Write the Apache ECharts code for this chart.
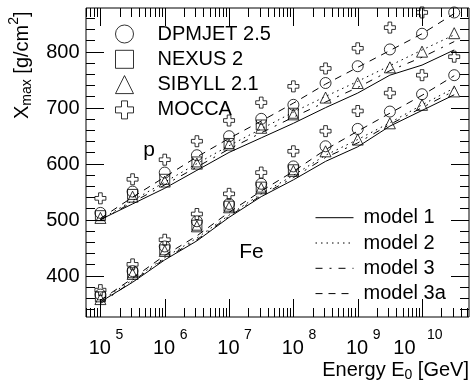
<!DOCTYPE html>
<html><head><meta charset="utf-8">
<script src="https://cdn.jsdelivr.net/npm/echarts@6/dist/echarts.min.js"></script>
<style>html,body{margin:0;padding:0;background:#fff}#c{width:471px;height:381px}</style>
</head><body><div id="c"></div>
<script>
// ---- data (x = log10 of energy in GeV) ----
const logE = [5, 5.5, 6, 6.5, 7, 7.5, 8, 8.5, 9, 9.5, 10, 10.5];

const dpmjetP  = [512, 550, 584, 615, 649, 680, 705, 744, 774, 804, 832, 870];
const dpmjetFe = [366, 408, 452, 497, 528, 564, 595, 631, 662, 693, 724, 758];
const nexusP   = [507, 545, 572, 603, 636, 669, 690];
const nexusFe  = [362, 405, 446, 490, 524, 558, 589];
const sibyllP  = [503, 541, 568, 600, 634, 664, 688, 718, 744, 772, 800, 833];
const sibyllFe = [358, 403, 444, 488, 522, 556, 587, 622, 643, 672, 705, 729];
const moccaP   = [538, 572, 607, 640, 677, 709, 738, 770, 806, 843, 870];
const moccaFe  = [374, 420, 464, 510, 546, 584, 622, 658, 694, 726, 758, 791];

const model1P  = [500, 528, 556, 588, 620, 646, 672, 700, 726, 758, 776, 803];
const model2P  = [500, 534, 567, 600, 632, 662, 692, 720, 747, 775, 803, 830];
const model3P  = [499, 531, 562, 594, 626, 655, 683, 710, 736, 766, 790, 818];
const model3aP = [502, 540, 576, 612, 645, 676, 708, 742, 772, 802, 832, 868];
const model1Fe  = [353, 388, 428, 462, 504, 541, 571, 604, 630, 667, 695, 723];
const model2Fe  = [355, 392, 432, 467, 508, 546, 579, 615, 643, 673, 705, 735];
const model3Fe  = [350, 390, 430, 464, 506, 543, 575, 611, 637, 670, 700, 730];
const model3aFe = [356, 395, 436, 471, 513, 551, 586, 625, 658, 690, 722, 757];

const xMajorTicks = [5, 6, 7, 8, 9, 10];
const xTickLabels = ['5', '6', '7', '8', '9', '10'];
const yMajorTicks = [400, 500, 600, 700, 800];
const yTickLabels = ['400', '500', '600', '700', '800'];

const markerNames = ['DPMJET 2.5', 'NEXUS 2', 'SIBYLL 2.1', 'MOCCA'];
const modelNames = ['model 1', 'model 2', 'model 3', 'model 3a'];

// ---- layout ----
const X_MIN = 4.776, X_MAX = 10.73, Y_MIN = 326, Y_MAX = 878;
const FONT = '"Liberation Sans", Arial, Helvetica, sans-serif';
const FS = 20;
const PLUS = 'path://M4,0H8V4H12V8H8V12H4V8H0V4H4Z';

function pairs(vals) { return vals.map((v, i) => [logE[i], v]); }

const xTicks = [];
for (let n = 4; n <= 10; n++) for (let k = 1; k <= 9; k++) {
  const v = n + Math.log10(k);
  if (v >= X_MIN && v <= X_MAX) xTicks.push([v, Y_MIN, k === 1 ? 1 : 0]);
}
const yTicks = [];
for (let v = 340; v <= 870; v += 20) yTicks.push([X_MIN, v, v % 100 === 0 ? 1 : 0]);

const ctx = document.createElement('canvas').getContext('2d');
function tw(t, s) { ctx.font = s + 'px ' + FONT; return ctx.measureText(t).width; }
function scriptRun(parts) {
  let x = 0; const ch = [];
  parts.forEach(p => {
    ch.push({type: 'text', x: x, y: p.dy || 0,
      style: {text: p.t, font: p.s + 'px ' + FONT, fill: '#000', align: 'left', verticalAlign: 'middle'}});
    x += tw(p.t, p.s);
  });
  return {children: ch, width: x};
}

const xTitle = scriptRun([{t: 'Energy E', s: FS}, {t: '0', s: 14, dy: 5}, {t: ' [GeV]', s: FS}]);
const yTitle = scriptRun([{t: 'X', s: FS}, {t: 'max', s: 14, dy: 5}, {t: ' [g/cm', s: FS}, {t: '2', s: 14, dy: -8}, {t: ']', s: FS}]);

function lineSeries(name, vals, type) {
  return {type: 'line', name: name, data: pairs(vals), symbol: 'none', showSymbol: false, z: 2,
    lineStyle: {color: '#000', width: 1, type: type}, itemStyle: {color: '#000'},
    emphasis: {disabled: true}, silent: true, animation: false};
}
function scatterSeries(name, p, fe, symbol, size) {
  return {type: 'scatter', name: name, data: pairs(p).concat(pairs(fe)), symbol: symbol, symbolSize: size, z: 3,
    itemStyle: {color: 'rgba(0,0,0,0)', borderColor: '#000', borderWidth: 1},
    emphasis: {disabled: true}, silent: true, animation: false};
}
const dash = {
  'model 1': 'solid', 'model 2': [1.5, 4], 'model 3': [7, 7, 2, 7], 'model 3a': [7, 6]
};

const chart = echarts.init(document.getElementById('c'), null, {renderer: 'canvas'});
chart.setOption({
  animation: false,
  grid: {left: 86, right: 2, top: 8, bottom: 64, show: true, borderColor: '#000', borderWidth: 1, backgroundColor: 'transparent'},
  xAxis: {type: 'value', min: X_MIN, max: X_MAX, axisLine: {show: false}, axisTick: {show: false}, axisLabel: {show: false}, splitLine: {show: false}},
  yAxis: {type: 'value', min: Y_MIN, max: Y_MAX, axisLine: {show: false}, axisTick: {show: false}, axisLabel: {show: false}, splitLine: {show: false}},
  legend: [
    {orient: 'vertical', left: 110, top: 19, itemWidth: 18, itemHeight: 18, itemGap: 5.3, selectedMode: false,
     itemStyle: {color: 'rgba(0,0,0,0)', borderColor: '#000', borderWidth: 1},
     data: markerNames, textStyle: {fontFamily: FONT, fontSize: FS, color: '#000', lineHeight: 18, padding: [0, 0, 0, 19]}},
    {orient: 'vertical', left: 310, top: 202.7, itemWidth: 38, itemHeight: 18, itemGap: 5.3, selectedMode: false,
     itemStyle: {color: 'rgba(0,0,0,0)', borderWidth: 0, opacity: 0},
     lineStyle: {width: 1, color: '#000'},
     data: modelNames, textStyle: {fontFamily: FONT, fontSize: FS, color: '#000', lineHeight: 18, padding: [0, 0, 0, 5]}}
  ],
  graphic: [
    {type: 'group', x: 469 - xTitle.width, y: 370, children: xTitle.children},
    {type: 'group', x: 22, y: 119, rotation: Math.PI / 2, children: yTitle.children},
    {type: 'text', x: 149, y: 150, style: {text: 'p', font: '21px ' + FONT, fill: '#000', align: 'center', verticalAlign: 'middle'}},
    {type: 'text', x: 251.5, y: 252, style: {text: 'Fe', font: '21px ' + FONT, fill: '#000', align: 'center', verticalAlign: 'middle'}}
  ],
  series: [
    lineSeries('model 1', model1P, dash['model 1']), lineSeries('model 1', model1Fe, dash['model 1']),
    lineSeries('model 2', model2P, dash['model 2']), lineSeries('model 2', model2Fe, dash['model 2']),
    lineSeries('model 3', model3P, dash['model 3']), lineSeries('model 3', model3Fe, dash['model 3']),
    lineSeries('model 3a', model3aP, dash['model 3a']), lineSeries('model 3a', model3aFe, dash['model 3a']),
    scatterSeries('DPMJET 2.5', dpmjetP, dpmjetFe, 'circle', 11),
    scatterSeries('NEXUS 2', nexusP, nexusFe, 'rect', 10),
    scatterSeries('SIBYLL 2.1', sibyllP, sibyllFe, 'triangle', 11),
    scatterSeries('MOCCA', moccaP, moccaFe, PLUS, 11),
    {type: 'custom', name: 'xticks', data: xTicks, clip: false, silent: true, z: 5,
     renderItem: function (params, api) {
       const v = api.value(0), len = api.value(2) ? 18 : 9;
       const b = api.coord([v, Y_MIN]), t = api.coord([v, Y_MAX]);
       const x = Math.round(b[0]) + 0.5;
       return {type: 'group', children: [
         {type: 'line', shape: {x1: x, y1: b[1], x2: x, y2: b[1] - len}, style: {stroke: '#000', lineWidth: 1}},
         {type: 'line', shape: {x1: x, y1: t[1], x2: x, y2: t[1] + len}, style: {stroke: '#000', lineWidth: 1}}
       ]};
     }},
    {type: 'custom', name: 'yticks', data: yTicks, clip: false, silent: true, z: 5,
     renderItem: function (params, api) {
       const v = api.value(1), len = api.value(2) ? 18 : 9;
       const l = api.coord([X_MIN, v]), r = api.coord([X_MAX, v]);
       const y = Math.round(l[1]) + 0.5;
       return {type: 'group', children: [
         {type: 'line', shape: {x1: l[0], y1: y, x2: l[0] + len, y2: y}, style: {stroke: '#000', lineWidth: 1}},
         {type: 'line', shape: {x1: r[0], y1: y, x2: r[0] - len, y2: y}, style: {stroke: '#000', lineWidth: 1}}
       ]};
     }},
    {type: 'custom', name: 'xlabels', data: xMajorTicks.map(v => [v, Y_MIN]), clip: false, silent: true, z: 5,
     renderItem: function (params, api) {
       const exp = xTickLabels[params.dataIndex];
       const p = api.coord([api.value(0), Y_MIN]);
       const shift = (exp.length - 1) * 17;
       return {type: 'group', children: [
         {type: 'text', x: p[0] + 10.5 - shift, y: p[1] + 31,
          style: {text: '10', font: FS + 'px ' + FONT, fill: '#000', align: 'right', verticalAlign: 'middle'}},
         {type: 'text', x: p[0] + 15 - shift + (exp.length - 1) * 7, y: p[1] + 18,
          style: {text: exp, font: '14px ' + FONT, fill: '#000', align: 'left', verticalAlign: 'middle'}}
       ]};
     }},
    {type: 'custom', name: 'ylabels', data: yMajorTicks.map(v => [X_MIN, v]), clip: false, silent: true, z: 5,
     renderItem: function (params, api) {
       const p = api.coord([X_MIN, api.value(1)]);
       return {type: 'text', x: p[0] - 6.5, y: p[1] + 1,
         style: {text: yTickLabels[params.dataIndex], font: FS + 'px ' + FONT, fill: '#000', align: 'right', verticalAlign: 'middle'}};
     }}
  ]
});
</script></body></html>
